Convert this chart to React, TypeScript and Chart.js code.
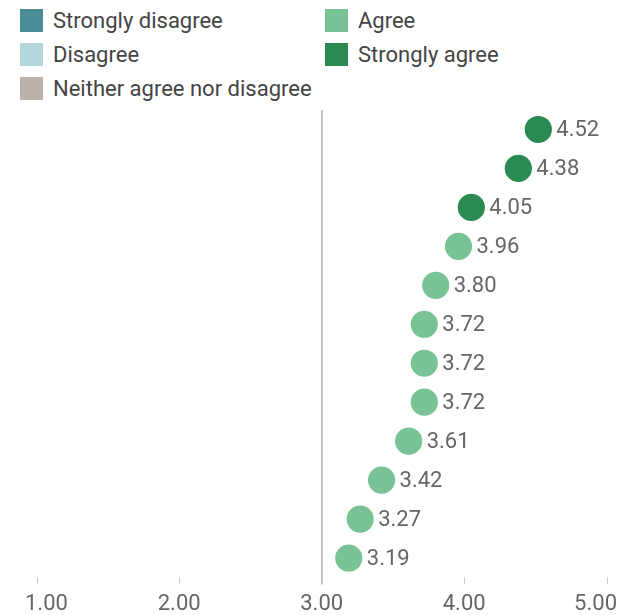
import React, { useEffect, useRef } from "react";
import { Chart, registerables } from "chart.js";

Chart.register(...registerables);

const rowLabels = ["1", "2", "3", "4", "5", "6", "7", "8", "9", "10", "11", "12"];
const meanScores = [4.52, 4.38, 4.05, 3.96, 3.8, 3.72, 3.72, 3.72, 3.61, 3.42, 3.27, 3.19];
const tickValues = [1, 2, 3, 4, 5];
const legendItems = ["Strongly disagree", "Disagree", "Neither agree nor disagree", "Agree", "Strongly agree"];
const legendColors = ["#4a8c94", "#b2d8dc", "#bab2ad", "#78c295", "#2a8a52"];

const FONT = "Roboto, 'Noto Sans', sans-serif";
const TICK_LEN = 7;

const labelPlugin = {
  id: "valueLabels",
  afterDatasetsDraw(chart: any) {
    const ctx = chart.ctx;
    const meta = chart.getDatasetMeta(0);
    ctx.save();
    ctx.font = `22px ${FONT}`;
    ctx.fillStyle = "#666666";
    ctx.textBaseline = "middle";
    ctx.textAlign = "left";
    meta.data.forEach((pt: any, i: number) => {
      ctx.fillText(meanScores[i].toFixed(2), pt.x + 18, pt.y + 1);
    });
    ctx.restore();
  },
};

// tick marks + tick labels (edge labels kept inside the canvas, as in the reference)
const axisPlugin = {
  id: "axisTicks",
  afterDraw(chart: any) {
    const ctx = chart.ctx;
    const xs = chart.scales.x;
    const bottom = chart.chartArea.bottom;
    ctx.save();
    ctx.strokeStyle = "#cccccc";
    ctx.lineWidth = 1;
    tickValues.forEach((v) => {
      if (v === 3) return;
      const px = Math.round(xs.getPixelForValue(v)) + 0.5;
      ctx.beginPath();
      ctx.moveTo(px, bottom);
      ctx.lineTo(px, bottom + TICK_LEN);
      ctx.stroke();
    });
    ctx.font = `22px ${FONT}`;
    ctx.fillStyle = "#666666";
    ctx.textBaseline = "middle";
    ctx.textAlign = "center";
    const W = chart.width;
    tickValues.forEach((v) => {
      const label = v.toFixed(2);
      const w = ctx.measureText(label).width;
      let cx = xs.getPixelForValue(v);
      cx = Math.max(cx, 25 + w / 2);
      cx = Math.min(cx, W - 14 - w / 2);
      ctx.fillText(label, cx, bottom + 27);
    });
    ctx.restore();
  },
};

export default function App() {
  const ref = useRef<HTMLCanvasElement | null>(null);
  useEffect(() => {
    if (!ref.current) return;
    const colors = meanScores.map((v) => (v >= 4 ? legendColors[4] : legendColors[3]));
    const chart = new Chart(ref.current, {
      type: "scatter",
      data: {
        labels: rowLabels,
        datasets: [
          {
            data: meanScores.map((v, i) => ({ x: v, y: rowLabels[i] })) as any,
            backgroundColor: colors,
            borderColor: colors,
            borderWidth: 0,
            pointRadius: 13.6,
            pointHoverRadius: 13.6,
          },
        ],
      },
      options: {
        animation: false,
        responsive: false,
        maintainAspectRatio: false,
        layout: { autoPadding: false, padding: { left: 36.7, right: 24.3, top: 5, bottom: 0 } },
        plugins: { legend: { display: false }, tooltip: { enabled: false } },
        scales: {
          y: {
            type: "category",
            labels: rowLabels,
            offset: true,
            display: false,
          },
          x: {
            type: "linear",
            min: 1,
            max: 5,
            afterBuildTicks: (scale: any) => {
              scale.ticks = tickValues.map((v) => ({ value: v }));
            },
            afterFit: (scale: any) => {
              scale.height = 37.5;
            },
            border: { display: false },
            grid: {
              drawOnChartArea: true,
              drawTicks: true,
              color: (c: any) => (c.tick && c.tick.value === 3 ? "#c6c6c6" : "rgba(0,0,0,0)"),
              lineWidth: 2,
              tickColor: (c: any) => (c.tick && c.tick.value === 3 ? "#c6c6c6" : "rgba(0,0,0,0)"),
              tickWidth: 2,
              tickLength: TICK_LEN,
            },
            ticks: {
              display: false,
            },
          },
        },
      },
      plugins: [labelPlugin, axisPlugin],
    });
    return () => chart.destroy();
  }, []);

  const legendPos = [
    { x: 20, y: 20 },
    { x: 20, y: 54 },
    { x: 20, y: 88 },
    { x: 325, y: 20 },
    { x: 325, y: 54 },
  ];

  return (
    <div style={{ position: "absolute", left: 0, top: 0, width: 631, height: 615, background: "#fff", fontFamily: FONT }}>
      {legendItems.map((name, i) => (
        <div
          key={name}
          style={{
            position: "absolute",
            left: legendPos[i].x,
            top: legendPos[i].y - 13,
            height: 26,
            display: "flex",
            alignItems: "center",
            whiteSpace: "nowrap",
          }}
        >
          <span style={{ display: "inline-block", width: 23, height: 23, background: legendColors[i], marginRight: 10 }} />
          <span style={{ fontSize: 22, color: "#444444" }}>{name}</span>
        </div>
      ))}
      <canvas ref={ref} width={631} height={510} style={{ position: "absolute", left: 0, top: 105, width: 631, height: 510 }} />
    </div>
  );
}
